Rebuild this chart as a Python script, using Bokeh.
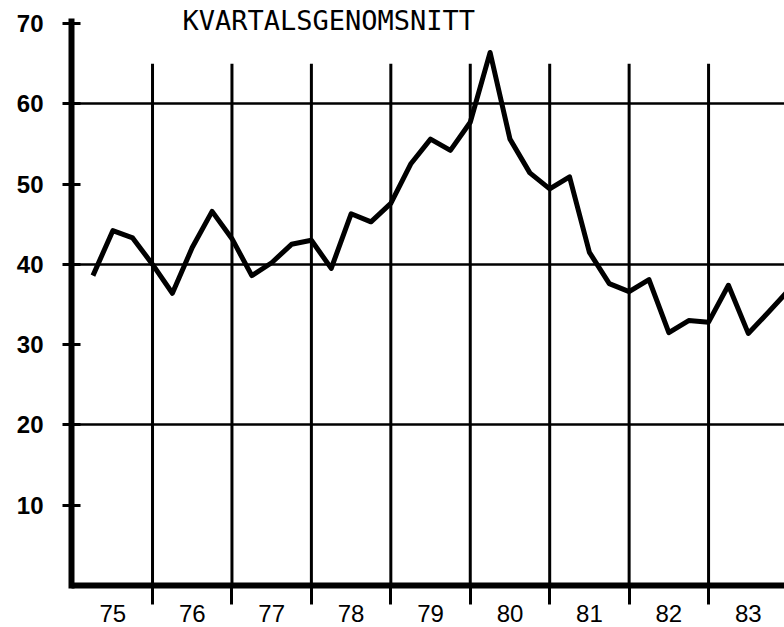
from bokeh.plotting import figure
from bokeh.models import FixedTicker, Range1d, Label
from bokeh.embed import file_html
from bokeh.resources import INLINE

# ---- data ----
title_text = "KVARTALSGENOMSNITT"
start_year = 1975
year_labels = ["75", "76", "77", "78", "79", "80", "81", "82", "83"]
quarterly = [38.6, 44.2, 43.3, 40.0, 36.4, 42.1, 46.6, 43.2,
             38.6, 40.2, 42.5, 43.0, 39.5, 46.3, 45.3, 47.6,
             52.5, 55.6, 54.2, 57.7, 66.4, 55.6, 51.4, 49.4,
             50.9, 41.5, 37.6, 36.6, 38.1, 31.5, 33.0, 32.8,
             37.4, 31.4, 34.0, 36.7]
y_ticks = [10, 20, 30, 40, 50, 60, 70]
grid_values = [20, 40, 60]

# ---- derived ----
xq = [start_year + (i + 1) / 4 for i in range(len(quarterly))]
mids = [start_year + i + 0.5 for i in range(len(year_labels))]
bounds = [start_year + i for i in range(1, len(year_labels))]

p = figure(width=784, height=627,
           x_range=Range1d(1974.98, 1983.956), y_range=Range1d(0, 72.87),
           output_backend="svg", toolbar_location=None,
           min_border_left=71, min_border_right=0,
           min_border_top=0, min_border_bottom=42)
p.outline_line_color = None
p.background_fill_color = "white"
p.border_fill_color = "white"

# y axis
ya = p.yaxis[0]
ya.ticker = FixedTicker(ticks=y_ticks, minor_ticks=[])
ya.bounds = (0, 70.3)
ya.axis_line_width = 6
ya.axis_line_color = "black"
ya.axis_line_cap = "square"
ya.major_tick_out = 9
ya.major_tick_in = 9
ya.major_tick_line_width = 3
ya.major_tick_line_color = "black"
ya.minor_tick_line_color = None
ya.major_label_text_font = "Liberation Sans"
ya.major_label_text_font_size = "24px"
ya.major_label_text_font_style = "bold"
ya.major_label_text_color = "black"
ya.major_label_standoff = 19

# x axis
xa = p.xaxis[0]
xa.ticker = FixedTicker(ticks=mids, minor_ticks=bounds)
xa.major_label_overrides = {m: lab for m, lab in zip(mids, year_labels)}
xa.axis_line_width = 6
xa.axis_line_color = "black"
xa.major_tick_line_color = None
xa.major_tick_out = 0
xa.major_tick_in = 0
xa.minor_tick_out = 19
xa.minor_tick_in = 0
xa.minor_tick_line_width = 3
xa.minor_tick_line_color = "black"
xa.major_label_text_font = "Liberation Sans"
xa.major_label_text_font_size = "24px"
xa.major_label_text_color = "black"
xa.major_label_standoff = 0

# grids
p.xgrid.visible = False
p.ygrid.ticker = FixedTicker(ticks=grid_values, minor_ticks=[])
p.ygrid.grid_line_color = "black"
p.ygrid.grid_line_width = 2.5

# year boundary lines
p.segment(x0=bounds, y0=[0] * len(bounds), x1=bounds, y1=[65] * len(bounds),
          line_color="black", line_width=3)

# series
p.line(xq, quarterly, line_color="black", line_width=5, line_join="round")

# title
p.add_layout(Label(x=1976.377, y=70.4, text=title_text,
                   text_font="DejaVu Sans Mono", text_font_size="27px",
                   text_baseline="middle", text_align="left",
                   text_color="black"))

open("out.html", "w").write(file_html(p, INLINE))
